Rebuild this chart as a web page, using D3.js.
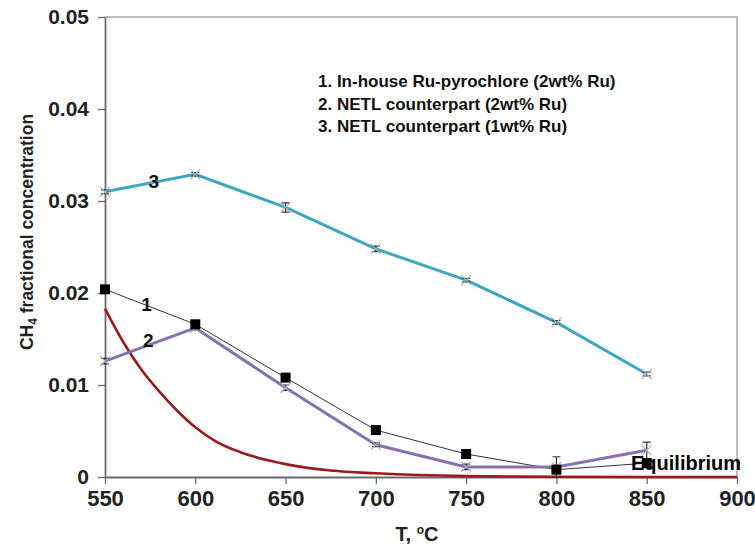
<!DOCTYPE html>
<html>
<head>
<meta charset="utf-8">
<script src="https://cdn.jsdelivr.net/npm/d3@7"></script>
<style>
  body { margin: 0; background: #fff; }
  svg { font-family: "Liberation Sans", Arial, sans-serif; font-weight: bold; }
</style>
</head>
<body>
<div id="chart"></div>
<script>
'use strict';

// temperatures, deg C
var temps = [550, 600, 650, 700, 750, 800, 850];

// 1. In-house Ru-pyrochlore (2wt% Ru)
var inHouse2 = [0.0204, 0.0166, 0.0108, 0.0051, 0.0025, 0.0008, 0.0015];
// 2. NETL counterpart (2wt% Ru)
var netl2 = [0.0126, 0.0162, 0.0097, 0.0035, 0.0011, 0.0011, 0.0029];
var netl2Err = [0.0003, 0.0002, 0.0003, 0.0002, 0.0003, 0.0011, 0.0009];
// 3. NETL counterpart (1wt% Ru)
var netl1 = [0.0310, 0.0329, 0.0293, 0.0248, 0.0214, 0.0168, 0.0112];
var netl1Err = [0.0002, 0.0002, 0.0005, 0.0003, 0.0002, 0.0002, 0.0002];

// equilibrium curve
var eqTemps = [550, 560, 570, 580, 590, 600, 612, 625, 650, 675, 700, 750, 800, 850, 900];
var eqValues = [0.0183, 0.0147, 0.0117, 0.0093, 0.0072, 0.0054, 0.0038, 0.0027, 0.0014, 0.0007, 0.0004, 0.0001, 0.00003, 0, 0];

var xTicks = [550, 600, 650, 700, 750, 800, 850, 900];
var yTicks = [0, 0.01, 0.02, 0.03, 0.04, 0.05];
var legendLines = ['1. In-house Ru-pyrochlore (2wt% Ru)', '2. NETL counterpart (2wt% Ru)', '3. NETL counterpart (1wt% Ru)'];

var width = 755, height = 555;
var plotLeft = 105, plotRight = 737, plotTop = 17, plotBottom = 477;

var svg = d3.select('#chart').append('svg')
    .attr('width', width)
    .attr('height', height);

var x = d3.scaleLinear().domain([550, 900]).range([plotLeft, plotRight]);
var y = d3.scaleLinear().domain([0, 0.05]).range([plotBottom, plotTop]);

//Plot box (light top / right borders)
svg.append('path')
    .attr('d', 'M' + plotLeft + ',' + plotTop + 'H' + plotRight + 'V' + plotBottom)
    .attr('fill', 'none')
    .attr('stroke', '#a8a8a8')
    .attr('stroke-width', 1.5);

//Axes
var xAxis = svg.append('g')
    .attr('transform', 'translate(0,' + plotBottom + ')')
    .call(d3.axisBottom(x).tickValues(xTicks).tickSize(7).tickPadding(6).tickSizeOuter(0).tickFormat(d3.format('d')));
var yAxis = svg.append('g')
    .attr('transform', 'translate(' + plotLeft + ',0)')
    .call(d3.axisLeft(y).tickValues(yTicks).tickSize(7).tickPadding(9).tickSizeOuter(0)
        .tickFormat(function(d) { return d === 0 ? '0' : d3.format('.2f')(d); }));

[xAxis, yAxis].forEach(function(g) {
    g.select('.domain').attr('stroke', '#6a6a6a').attr('stroke-width', 1.8);
    g.selectAll('.tick line').attr('stroke', '#6a6a6a').attr('stroke-width', 1.3);
    g.selectAll('.tick text')
        .attr('fill', '#222')
        .attr('font-family', '"Liberation Sans", Arial, sans-serif')
        .attr('font-weight', 'bold');
});
xAxis.selectAll('.tick text').attr('font-size', 22);
yAxis.selectAll('.tick text').attr('font-size', 21);

//Axis titles
svg.append('text')
    .attr('transform', 'translate(33,' + 232 + ') rotate(-90)')
    .attr('text-anchor', 'middle')
    .attr('font-size', 17.5)
    .attr('fill', '#222')
    .call(function(t) {
        t.append('tspan').text('CH');
        t.append('tspan').attr('font-size', 12).attr('dy', 4).text('4');
        t.append('tspan').attr('dy', -4).text(' fractional concentration');
    });

svg.append('text')
    .attr('x', 417)
    .attr('y', 541)
    .attr('text-anchor', 'middle')
    .attr('font-size', 20)
    .attr('fill', '#222')
    .call(function(t) {
        t.append('tspan').text('T, ');
        t.append('tspan').attr('font-size', 12).attr('dy', -7).text('o');
        t.append('tspan').attr('dy', 7).text('C');
    });

//Line drawing helpers
var seriesLine = function(xs) {
    return d3.line()
        .x(function(d, i) { return x(xs[i]); })
        .y(function(d) { return y(d); });
};

//Equilibrium
svg.append('path')
    .datum(eqValues)
    .attr('d', seriesLine(eqTemps).curve(d3.curveMonotoneX))
    .attr('fill', 'none')
    .attr('stroke', '#9a1a1f')
    .attr('stroke-width', 2.6);

//Series 1: thin black line
svg.append('path')
    .datum(inHouse2)
    .attr('d', seriesLine(temps))
    .attr('fill', 'none')
    .attr('stroke', '#333')
    .attr('stroke-width', 1);

//Series 2 and 3: thick coloured lines with error bars and x markers
var drawErrorSeries = function(values, errors, color) {
    var g = svg.append('g');
    g.append('path')
        .datum(values)
        .attr('d', seriesLine(temps))
        .attr('fill', 'none')
        .attr('stroke', color)
        .attr('stroke-width', 3);
    var pts = g.selectAll('.pt')
        .data(values)
        .enter()
        .append('g')
        .attr('class', 'pt');
    pts.append('path')
        .attr('d', function(d, i) {
            var cx = x(temps[i]), lo = y(d - errors[i]), hi = y(d + errors[i]);
            return 'M' + cx + ',' + lo + 'V' + hi +
                'M' + (cx - 4) + ',' + hi + 'H' + (cx + 4) +
                'M' + (cx - 4) + ',' + lo + 'H' + (cx + 4);
        })
        .attr('stroke', '#333')
        .attr('stroke-width', 1.2)
        .attr('fill', 'none');
    pts.append('path')
        .attr('d', function(d, i) {
            var cx = x(temps[i]), cy = y(d), r = 5;
            return 'M' + (cx - r) + ',' + (cy - r) + 'L' + (cx + r) + ',' + (cy + r) +
                'M' + (cx - r) + ',' + (cy + r) + 'L' + (cx + r) + ',' + (cy - r);
        })
        .attr('stroke', '#aab4bc')
        .attr('stroke-width', 1.2);
};

drawErrorSeries(netl1, netl1Err, '#3fa6bd');
drawErrorSeries(netl2, netl2Err, '#8672b2');

//Equilibrium label (the last square sits on top of it)
svg.append('text')
    .attr('x', 741)
    .attr('y', 470)
    .attr('text-anchor', 'end')
    .attr('font-size', 20)
    .attr('fill', '#000')
    .text('Equilibrium');

svg.selectAll('.square')
    .data(inHouse2)
    .enter()
    .append('rect')
    .attr('class', 'square')
    .attr('x', function(d, i) { return x(temps[i]) - 5; })
    .attr('y', function(d) { return y(d) - 5; })
    .attr('width', 10)
    .attr('height', 10)
    .attr('fill', '#000');

//Series number labels
var numberLabels = [
    { text: '1', t: 573, v: 0.0188 },
    { text: '2', t: 574, v: 0.0148 },
    { text: '3', t: 577, v: 0.0321 }
];
svg.selectAll('.num')
    .data(numberLabels)
    .enter()
    .append('text')
    .attr('class', 'num')
    .attr('x', function(d) { return x(d.t); })
    .attr('y', function(d) { return y(d.v); })
    .attr('dy', '0.35em')
    .attr('text-anchor', 'middle')
    .attr('font-size', 19)
    .attr('fill', '#111')
    .text(function(d) { return d.text; });

//Legend text
svg.selectAll('.legend')
    .data(legendLines)
    .enter()
    .append('text')
    .attr('class', 'legend')
    .attr('x', 318)
    .attr('y', function(d, i) { return 87 + i * 22.5; })
    .attr('font-size', 17)
    .attr('fill', '#111')
    .text(function(d) { return d; });
</script>
</body>
</html>
